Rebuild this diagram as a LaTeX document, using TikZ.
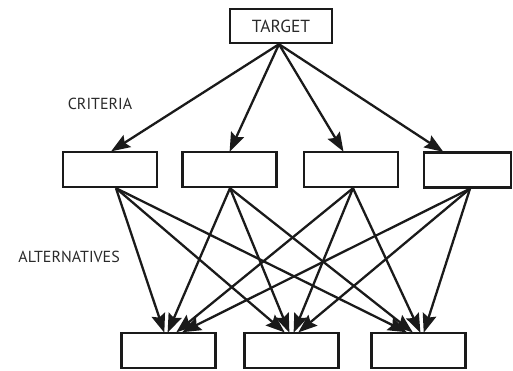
\documentclass[tikz,border=0pt]{standalone}
\usepackage{fontspec}
\setmainfont{PT Sans}
\usetikzlibrary{arrows.meta}
\definecolor{ink}{HTML}{1A1A1A}
\definecolor{txt}{HTML}{2A2A2A}
\tikzset{
  box/.style={draw=ink, line width=2.4pt, minimum width=94pt, minimum height=35pt, inner sep=0pt},
  arr/.style={draw=ink, line width=2.3pt, -{Stealth[length=19pt,width=14pt,inset=3pt]}, shorten >=-1pt},
  lbl/.style={text=txt, inner sep=0pt, font=\fontsize{16pt}{18pt}\selectfont}
}
\begin{document}
\begin{tikzpicture}[x=1pt,y=-1pt]
\useasboundingbox (0,0) rectangle (513,371);
% top
\node[box, minimum width=102pt, minimum height=34pt, font=\fontsize{17.5pt}{19pt}\selectfont, text=txt] (t) at (281,26) {TARGET};
% criteria
\node[box] (c1) at (110,169.5) {};
\node[box] (c2) at (229.5,169.5) {};
\node[box] (c3) at (351,169.5) {};
\node[box, minimum width=87pt] (c4) at (467.5,170) {};
% alternatives
\node[box] (a1) at (168.5,350.5) {};
\node[box] (a2) at (291.5,350.5) {};
\node[box] (a3) at (418.5,350.5) {};
% labels
\node[lbl] (lc) at (100,104) {CRITERIA};
\node[lbl, anchor=east] (la) at (120,257) {ALTERNATIVES};
% target -> criteria
\draw[arr] ([xshift=-2pt]t.south) -- ([xshift=2pt]c1.north);
\draw[arr] ([xshift=-2pt]t.south) -- ([xshift=0.5pt]c2.north);
\draw[arr] ([xshift=-2pt]t.south) -- ([xshift=-8pt]c3.north);
\draw[arr] ([xshift=-2pt]t.south) -- ([xshift=-25pt]c4.north);
% criteria -> alternatives
\draw[arr] ([xshift=6pt]c1.south) -- ([xshift=-4.5pt]a1.north);
\draw[arr] ([xshift=6pt]c1.south) -- ([xshift=-7.5pt]a2.north);
\draw[arr] ([xshift=6pt]c1.south) -- ([xshift=-12.5pt]a3.north);
\draw[arr] ([xshift=0.5pt]c2.south) -- ([xshift=-0.5pt]a1.north);
\draw[arr] ([xshift=0.5pt]c2.south) -- ([xshift=-2.5pt]a2.north);
\draw[arr] ([xshift=0.5pt]c2.south) -- ([xshift=-6.5pt]a3.north);
\draw[arr] ([xshift=2pt]c3.south) -- ([xshift=8.5pt]a1.north);
\draw[arr] ([xshift=2pt]c3.south) -- ([xshift=2.5pt]a2.north);
\draw[arr] ([xshift=2pt]c3.south) -- ([xshift=1.5pt]a3.north);
\draw[arr] ([xshift=2.5pt]c4.south) -- ([xshift=14.5pt]a1.north);
\draw[arr] ([xshift=2.5pt]c4.south) -- ([xshift=7.5pt]a2.north);
\draw[arr] ([xshift=2.5pt]c4.south) -- ([xshift=5.5pt]a3.north);
\end{tikzpicture}
\end{document}
